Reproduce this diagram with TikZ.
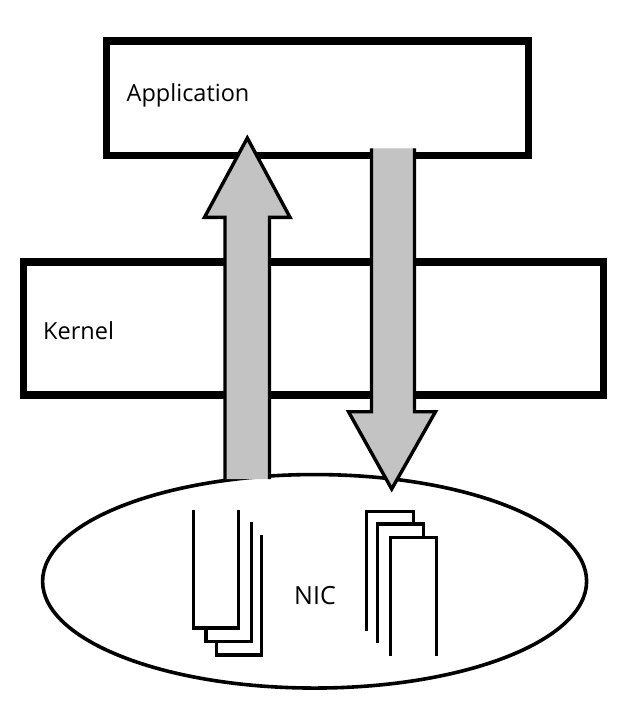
\documentclass[tikz,border=0pt]{standalone}
\usepackage{fontspec}
\setmainfont{Open Sans}
\usetikzlibrary{shapes.geometric}
\definecolor{arrowgray}{RGB}{195,195,195}
\tikzset{
  layerbox/.style={draw=black, line width=7.3pt, fill=white, rectangle, inner sep=0pt},
  nicshape/.style={draw=black, line width=3.6pt, fill=white, ellipse, inner sep=0pt},
  buffer/.style={draw=black, line width=3.4pt, fill=white},
  arrowfill/.style={fill=arrowgray},
  arrowline/.style={draw=black, line width=3.4pt, line join=miter},
  lbl/.style={anchor=base west, inner sep=0pt, font=\fontsize{23.5}{28}\selectfont}
}
\begin{document}
\begin{tikzpicture}[x=1pt,y=-1pt]
\useasboundingbox (0,0) rectangle (636,701);
% NIC ellipse
\node[nicshape, minimum width=544pt, minimum height=213.5pt] (nic) at (314.6,581.3) {};
\node[lbl, font=\fontsize{25}{30}\selectfont] (nictext) at (294,604) {NIC};
% left buffer stack (open at top), back to front
\draw[buffer] (216.7,535) -- (216.7,655) -- (261.7,655) -- (261.7,535);
\draw[buffer] (206,521.7) -- (206,641.7) -- (251.7,641.7) -- (251.7,521.7);
\draw[buffer] (193.3,510) -- (193.3,628) -- (238.3,628) -- (238.3,510);
% right buffer stack (open at bottom), back to front
\draw[buffer] (366.7,630.7) -- (366.7,511.7) -- (413.3,511.7) -- (413.3,630.7);
\draw[buffer] (377.3,643) -- (377.3,524) -- (423.3,524) -- (423.3,643);
\draw[buffer] (390.7,656) -- (390.7,537.3) -- (436.7,537.3) -- (436.7,656);
% Application box
\node[layerbox, minimum width=422pt, minimum height=114.5pt] (app) at (317.2,98.2) {};
\node[lbl] (apptext) at (126.5,101) {Application};
% Kernel box
\node[layerbox, minimum width=580pt, minimum height=133pt] (kernel) at (313.7,328.5) {};
\node[lbl] (kerneltext) at (43,339.3) {Kernel};
% up arrow (NIC -> Application)
\coordinate (upbl) at (225,479);
\coordinate (upbr) at (269.5,479);
\coordinate (uptip) at (247.3,138);
\fill[arrowfill] (upbl) -- (225,217.3) -- (204.5,217.3) -- (uptip) -- (290,217.3) -- (269.5,217.3) -- (upbr) -- cycle;
\draw[arrowline] (upbl) -- (225,217.3) -- (204.5,217.3) -- (uptip) -- (290,217.3) -- (269.5,217.3) -- (upbr);
% down arrow (Application -> NIC)
\coordinate (dntl) at (371.5,148.3);
\coordinate (dntr) at (414.5,148.3);
\coordinate (dntip) at (391.7,489);
\fill[arrowfill] (dntl) -- (371.5,411.7) -- (348.5,411.7) -- (dntip) -- (435.5,411.7) -- (414.5,411.7) -- (dntr) -- cycle;
\draw[arrowline] (dntl) -- (371.5,411.7) -- (348.5,411.7) -- (dntip) -- (435.5,411.7) -- (414.5,411.7) -- (dntr);
\end{tikzpicture}
\end{document}
